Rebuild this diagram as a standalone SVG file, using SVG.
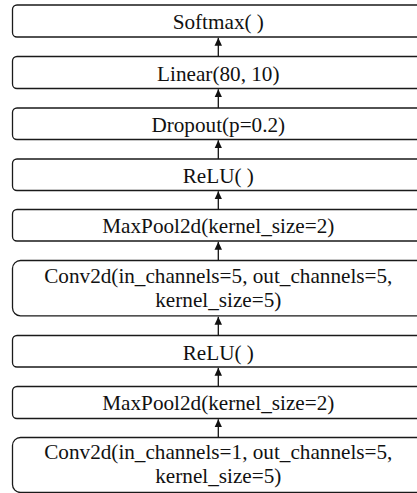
<svg xmlns="http://www.w3.org/2000/svg" width="417" height="493" viewBox="0 0 417 493">
<defs>
<style>
.box{fill:#fff;stroke:#1a1a1a;stroke-width:1.3}
.lbl{font-family:"Liberation Serif","Times New Roman",serif;font-size:21.2px;fill:#111;text-anchor:middle}
.conn{stroke:#111;stroke-width:1.3;fill:none}
</style>
<marker id="ah" markerUnits="userSpaceOnUse" markerWidth="8" markerHeight="8" viewBox="0 0 7 6.6" refX="7" refY="3.3" orient="auto">
<path d="M0,0 L7,3.3 L0,6.6 Z" fill="#111"/>
</marker>
</defs>
<rect width="417" height="493" fill="#fff"/>
<g id="connectors">
<line class="conn" x1="218.3" y1="56.5" x2="218.3" y2="37.8" marker-end="url(#ah)"/>
<line class="conn" x1="218.3" y1="108" x2="218.3" y2="89.3" marker-end="url(#ah)"/>
<line class="conn" x1="218.3" y1="159" x2="218.3" y2="140.3" marker-end="url(#ah)"/>
<line class="conn" x1="218.3" y1="209.5" x2="218.3" y2="191.3" marker-end="url(#ah)"/>
<line class="conn" x1="218.3" y1="260.5" x2="218.3" y2="241.8" marker-end="url(#ah)"/>
<line class="conn" x1="218.3" y1="335.5" x2="218.3" y2="316.8" marker-end="url(#ah)"/>
<line class="conn" x1="218.3" y1="386.5" x2="218.3" y2="367.8" marker-end="url(#ah)"/>
<line class="conn" x1="218.3" y1="437.5" x2="218.3" y2="419.3" marker-end="url(#ah)"/>
</g>
<g id="softmax"><rect class="box" x="12.5" y="5" width="412" height="32" rx="4.5"/><text class="lbl" x="218.3" y="29.3">Softmax( )</text></g>
<g id="linear"><rect class="box" x="12.5" y="56.5" width="412" height="32" rx="4.5"/><text class="lbl" x="218.3" y="80.8">Linear(80, 10)</text></g>
<g id="dropout"><rect class="box" x="12.5" y="108" width="412" height="31.5" rx="4.5"/><text class="lbl" x="218.3" y="132.3">Dropout(p=0.2)</text></g>
<g id="relu2"><rect class="box" x="12.5" y="159" width="412" height="31.5" rx="4.5"/><text class="lbl" x="218.3" y="182.8">ReLU( )</text></g>
<g id="maxpool2"><rect class="box" x="12.5" y="209.5" width="412" height="31.5" rx="4.5"/><text class="lbl" x="218.3" y="232.8">MaxPool2d(kernel_size=2)</text></g>
<g id="conv2"><rect class="box" x="12.5" y="260.5" width="412" height="55.3" rx="8"/><text class="lbl" x="218.3" y="283.3"><tspan x="218.3" y="283.3">Conv2d(in_channels=5, out_channels=5,</tspan><tspan x="218.3" y="306.8">kernel_size=5)</tspan></text></g>
<g id="relu1"><rect class="box" x="12.5" y="335.5" width="412" height="31.5" rx="4.5"/><text class="lbl" x="218.3" y="359.8">ReLU( )</text></g>
<g id="maxpool1"><rect class="box" x="12.5" y="386.5" width="412" height="32" rx="4.5"/><text class="lbl" x="218.3" y="410.3">MaxPool2d(kernel_size=2)</text></g>
<g id="conv1"><rect class="box" x="12.5" y="437.5" width="412" height="55" rx="8"/><text class="lbl" x="218.3" y="459.3"><tspan x="218.3" y="459.3">Conv2d(in_channels=1, out_channels=5,</tspan><tspan x="218.3" y="482.8">kernel_size=5)</tspan></text></g>
</svg>
